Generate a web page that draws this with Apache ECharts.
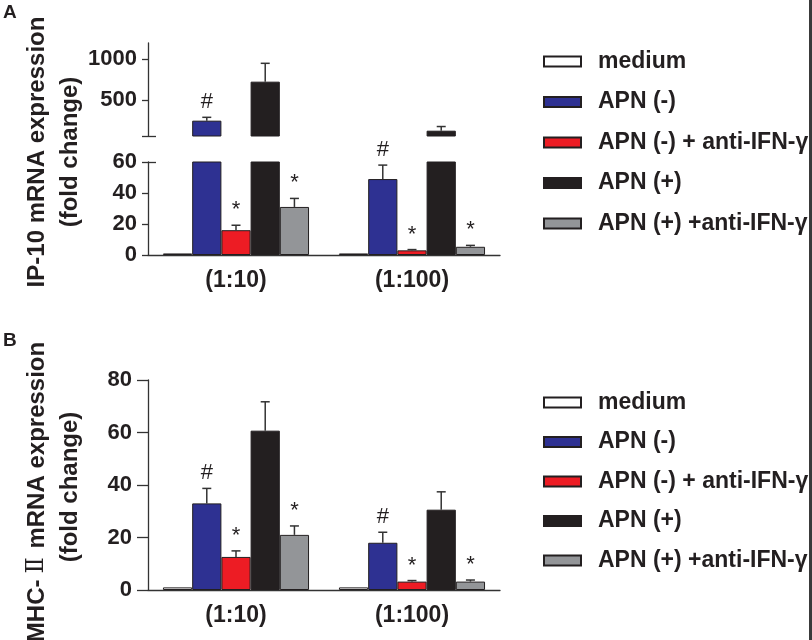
<!DOCTYPE html>
<html>
<head>
<meta charset="utf-8">
<script src="https://cdn.jsdelivr.net/npm/echarts@6/dist/echarts.min.js"></script>
<style>
  html, body { margin: 0; padding: 0; background: #fff; }
  #wrap { width: 809px; height: 640px; overflow: hidden; border-right: 3px solid #3a3a3a; }
  #chart { width: 809px; height: 640px; }
</style>
</head>
<body>
<div id="wrap"><div id="chart"></div></div>
<script>
// ---------- data ----------
const categories = ['(1:10)', '(1:100)'];
const seriesNames = ['medium', 'APN (-)', 'APN (-) + anti-IFN-γ', 'APN (+)', 'APN (+) +anti-IFN-γ'];
const seriesColors = ['#ffffff', '#2e3192', '#ed1c24', '#231f20', '#939598'];

// Panel A: IP-10 mRNA expression (fold change)
const ipMedium      = [1, 1];
const ipApnNeg      = [248, 49];
const ipApnNegAnti  = [16, 3];
const ipApnPos      = [726, 125];
const ipApnPosAnti  = [31, 5.3];
const ipErrMedium     = [0, 0];
const ipErrApnNeg     = [41, 9];
const ipErrApnNegAnti = [3.2, 0.5];
const ipErrApnPos     = [225, 51];
const ipErrApnPosAnti = [5.5, 0.9];

// Panel B: MHC-II mRNA expression (fold change)
const mhcMedium     = [1, 1];
const mhcApnNeg     = [33, 18];
const mhcApnNegAnti = [12.6, 3.2];
const mhcApnPos     = [60.7, 30.6];
const mhcApnPosAnti = [21, 3.2];
const mhcErrMedium     = [0, 0];
const mhcErrApnNeg     = [5.7, 4];
const mhcErrApnNegAnti = [2.3, 0.4];
const mhcErrApnPos     = [11, 6.8];
const mhcErrApnPosAnti = [3.4, 0.6];

// significance markers (same for both panels)
const markMedium     = ['', ''];
const markApnNeg     = ['#', '#'];
const markApnNegAnti = ['*', '*'];
const markApnPos     = ['', ''];
const markApnPosAnti = ['*', '*'];

// axis ranges / ticks
const ipTopMin = 60, ipTopMax = 1200;
const ipTopTicks = [60, 500, 1000];
const ipTopLabels = [500, 1000];
const ipBottomMax = 60;
const mhcMax = 80;
const tickInterval = 20;

// ---------- build ----------
const ipMeans = [ipMedium, ipApnNeg, ipApnNegAnti, ipApnPos, ipApnPosAnti];
const ipErrs = [ipErrMedium, ipErrApnNeg, ipErrApnNegAnti, ipErrApnPos, ipErrApnPosAnti];
const mhcMeans = [mhcMedium, mhcApnNeg, mhcApnNegAnti, mhcApnPos, mhcApnPosAnti];
const mhcErrs = [mhcErrMedium, mhcErrApnNeg, mhcErrApnNegAnti, mhcErrApnPos, mhcErrApnPosAnti];
const marks = [markMedium, markApnNeg, markApnNegAnti, markApnPos, markApnPosAnti];

const FONT = '"Liberation Sans", Arial, "Noto Sans CJK SC", sans-serif';
const INK = '#231f20';
const CAT_GAP = 0.17;

function barSeries(gridIdx, yIdx, means) {
  return means.map((vals, i) => ({
    name: seriesNames[i],
    type: 'bar',
    xAxisIndex: gridIdx,
    yAxisIndex: yIdx,
    data: vals,
    barGap: '0%',
    barCategoryGap: (CAT_GAP * 100) + '%',
    clip: true,
    itemStyle: { color: seriesColors[i], borderColor: INK, borderWidth: 1 },
    emphasis: { disabled: true },
    silent: true
  }));
}

function errItems(means, errs, filter) {
  const items = [];
  means.forEach((vals, si) => {
    vals.forEach((m, ci) => {
      if (!filter(m)) return;
      items.push({ cat: ci, si: si, mean: m, top: m + errs[si][ci], mark: marks[si][ci] });
    });
  });
  return items;
}

function errorSeries(gridIdx, yIdx, items) {
  return {
    type: 'custom',
    xAxisIndex: gridIdx,
    yAxisIndex: yIdx,
    silent: true,
    z: 5,
    clip: false,
    data: items.map(it => [it.cat, it.mean, it.top]),
    renderItem: function (params, api) {
      const it = items[params.dataIndex];
      const band = api.size([1, 0])[0];
      const bw = band * (1 - CAT_GAP) / 5;
      const cx = api.coord([it.cat, it.mean])[0] + (it.si - 2) * bw;
      const yMean = api.coord([it.cat, it.mean])[1];
      const yTop = api.coord([it.cat, it.top])[1];
      const children = [];
      if (it.top > it.mean) {
        children.push({ type: 'line', shape: { x1: cx, y1: yMean, x2: cx, y2: yTop }, style: { stroke: '#333', lineWidth: 1.5 } });
        children.push({ type: 'line', shape: { x1: cx - 4.5, y1: yTop, x2: cx + 4.5, y2: yTop }, style: { stroke: '#333', lineWidth: 1.5 } });
      }
      if (it.mark) {
        children.push({ type: 'text', x: cx, y: yTop - 4, style: { text: it.mark, font: '22px ' + FONT, fill: INK, align: 'center', verticalAlign: 'bottom' } });
      }
      return { type: 'group', children: children };
    }
  };
}

const tickLabelStyle = { color: INK, fontSize: 22, fontWeight: 'bold', fontFamily: FONT };
const axisLineStyle = { color: '#333', width: 1.3 };
const plainNumber = v => String(v);

const grids = [
  { left: 148, top: 43, width: 352, height: 93 },
  { left: 148, top: 162, width: 352, height: 93 },
  { left: 148, top: 380, width: 352, height: 210 }
];

const xAxes = [
  { gridIndex: 0, type: 'category', data: categories, show: false },
  { gridIndex: 1, type: 'category', data: categories,
    axisLine: { lineStyle: axisLineStyle }, axisTick: { show: false },
    axisLabel: { ...tickLabelStyle, fontSize: 23, margin: 14 } },
  { gridIndex: 2, type: 'category', data: categories,
    axisLine: { lineStyle: axisLineStyle }, axisTick: { show: false },
    axisLabel: { ...tickLabelStyle, fontSize: 23, margin: 14 } }
];

const yAxes = [
  { gridIndex: 0, type: 'value', min: ipTopMin, max: ipTopMax, splitLine: { show: false },
    axisLine: { show: true, lineStyle: axisLineStyle },
    axisTick: { show: true, length: 6, customValues: ipTopTicks, lineStyle: axisLineStyle },
    axisLabel: { ...tickLabelStyle, margin: 11, customValues: ipTopLabels, formatter: plainNumber } },
  { gridIndex: 1, type: 'value', min: 0, max: ipBottomMax, interval: tickInterval, splitLine: { show: false },
    axisLine: { show: true, lineStyle: axisLineStyle },
    axisTick: { show: true, length: 6, lineStyle: axisLineStyle },
    axisLabel: { ...tickLabelStyle, margin: 11, formatter: plainNumber } },
  { gridIndex: 2, type: 'value', min: 0, max: mhcMax, interval: tickInterval, splitLine: { show: false },
    axisLine: { show: true, lineStyle: axisLineStyle },
    axisTick: { show: true, length: 11, lineStyle: axisLineStyle },
    axisLabel: { ...tickLabelStyle, margin: 16, formatter: plainNumber } },
  // break marks crossing the axis at the segment joint
  { gridIndex: 0, type: 'value', min: ipTopMin, max: ipTopMax, position: 'left', splitLine: { show: false },
    axisLine: { show: false }, axisLabel: { show: false },
    axisTick: { show: true, inside: true, length: 8, customValues: [ipTopMin], lineStyle: axisLineStyle } },
  { gridIndex: 1, type: 'value', min: 0, max: ipBottomMax, position: 'left', splitLine: { show: false },
    axisLine: { show: false }, axisLabel: { show: false },
    axisTick: { show: true, inside: true, length: 8, customValues: [ipBottomMax], lineStyle: axisLineStyle } }
];

const series = [
  ...barSeries(0, 0, ipMeans),
  ...barSeries(1, 1, ipMeans),
  ...barSeries(2, 2, mhcMeans),
  errorSeries(0, 0, errItems(ipMeans, ipErrs, m => m > ipTopMin)),
  errorSeries(1, 1, errItems(ipMeans, ipErrs, m => m <= ipTopMin)),
  errorSeries(2, 2, errItems(mhcMeans, mhcErrs, m => true))
];

const legendCommon = {
  orient: 'vertical', left: 538, itemWidth: 37, itemHeight: 10,
  icon: 'rect', selectedMode: false, data: seriesNames,
  textStyle: { color: INK, fontSize: 23, fontWeight: 'bold', fontFamily: FONT, padding: [0, 0, 0, 12] }
};

const titleFont = 'bold 24px ' + FONT;

const option = {
  backgroundColor: '#fff',
  animation: false,
  title: [
    { text: 'A', left: 3, top: 3, padding: 0, textStyle: { color: INK, fontSize: 19, fontWeight: 'bold', fontFamily: FONT } },
    { text: 'B', left: 3, top: 331, padding: 0, textStyle: { color: INK, fontSize: 19, fontWeight: 'bold', fontFamily: FONT } }
  ],
  legend: [
    { ...legendCommon, top: 45, itemGap: 17.5 },
    { ...legendCommon, top: 386, itemGap: 16.5 }
  ],
  grid: grids,
  xAxis: xAxes,
  yAxis: yAxes,
  series: series,
  graphic: [
    { type: 'text', x: 37, y: 152, rotation: Math.PI / 2, silent: true,
      style: { text: 'IP-10 mRNA expression', font: titleFont, fill: INK, align: 'center', verticalAlign: 'middle' } },
    { type: 'text', x: 70, y: 152, rotation: Math.PI / 2, silent: true,
      style: { text: '(fold change)', font: titleFont, fill: INK, align: 'center', verticalAlign: 'middle' } },
    { type: 'text', x: 37, y: 492, rotation: Math.PI / 2, silent: true,
      style: { text: '{a|MHC-}{b|Ⅱ}{a| mRNA expression}', align: 'center', verticalAlign: 'middle',
        rich: {
          a: { font: titleFont, fill: INK },
          b: { font: '24px "DejaVu Serif", "Noto Sans CJK SC", serif', fill: INK, padding: [0, 2, 0, 6] }
        } } },
    { type: 'text', x: 70, y: 487, rotation: Math.PI / 2, silent: true,
      style: { text: '(fold change)', font: titleFont, fill: INK, align: 'center', verticalAlign: 'middle' } }
  ]
};

const chart = echarts.init(document.getElementById('chart'), null, { renderer: 'canvas' });
chart.setOption(option);
</script>
</body>
</html>
